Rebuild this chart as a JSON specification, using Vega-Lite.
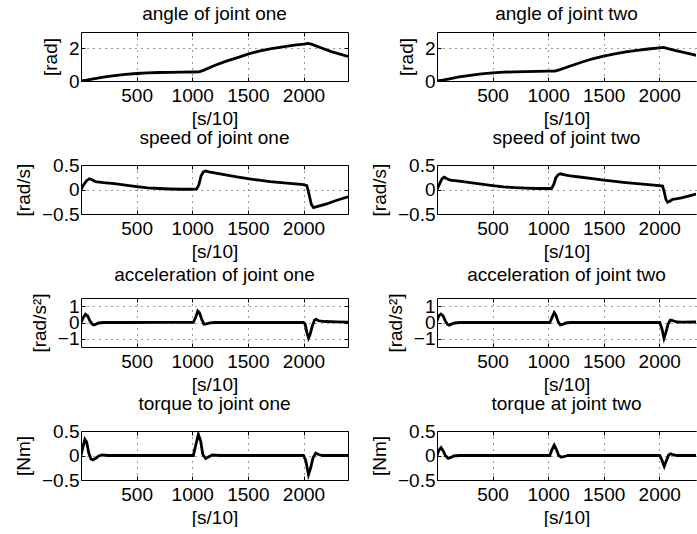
{
  "$schema": "https://vega.github.io/schema/vega-lite/v6.json",
  "padding": {"left": 14, "top": 4, "right": 0, "bottom": 0},
  "background": "white",
  "datasets": {
    "a1": [
      {"t": 0, "v": 0}, {"t": 50, "v": 0.05}, {"t": 100, "v": 0.12}, {"t": 200, "v": 0.24}, {"t": 300, "v": 0.33},
      {"t": 400, "v": 0.41}, {"t": 500, "v": 0.46}, {"t": 600, "v": 0.5}, {"t": 700, "v": 0.52}, {"t": 800, "v": 0.53},
      {"t": 900, "v": 0.54}, {"t": 1000, "v": 0.55}, {"t": 1060, "v": 0.56}, {"t": 1100, "v": 0.65}, {"t": 1200, "v": 0.95},
      {"t": 1300, "v": 1.2}, {"t": 1400, "v": 1.42}, {"t": 1500, "v": 1.65}, {"t": 1600, "v": 1.83}, {"t": 1700, "v": 1.97},
      {"t": 1800, "v": 2.08}, {"t": 1900, "v": 2.18}, {"t": 2000, "v": 2.26}, {"t": 2040, "v": 2.3}, {"t": 2070, "v": 2.26},
      {"t": 2150, "v": 2.05}, {"t": 2250, "v": 1.8}, {"t": 2400, "v": 1.5}
    ],
    "a2": [
      {"t": 0, "v": 0}, {"t": 50, "v": 0.05}, {"t": 100, "v": 0.12}, {"t": 200, "v": 0.25}, {"t": 300, "v": 0.35},
      {"t": 400, "v": 0.44}, {"t": 500, "v": 0.5}, {"t": 600, "v": 0.54}, {"t": 700, "v": 0.56}, {"t": 800, "v": 0.58},
      {"t": 900, "v": 0.59}, {"t": 1000, "v": 0.6}, {"t": 1060, "v": 0.6}, {"t": 1100, "v": 0.68}, {"t": 1200, "v": 0.92},
      {"t": 1300, "v": 1.15}, {"t": 1400, "v": 1.36}, {"t": 1500, "v": 1.52}, {"t": 1600, "v": 1.66}, {"t": 1700, "v": 1.78},
      {"t": 1800, "v": 1.88}, {"t": 1900, "v": 1.96}, {"t": 2000, "v": 2.03}, {"t": 2040, "v": 2.06}, {"t": 2070, "v": 2.0},
      {"t": 2150, "v": 1.86}, {"t": 2250, "v": 1.7}, {"t": 2340, "v": 1.56}
    ],
    "v1": [
      {"t": 0, "v": 0}, {"t": 20, "v": 0.08}, {"t": 50, "v": 0.18}, {"t": 75, "v": 0.22}, {"t": 100, "v": 0.2},
      {"t": 130, "v": 0.16}, {"t": 200, "v": 0.14}, {"t": 300, "v": 0.12}, {"t": 400, "v": 0.09}, {"t": 500, "v": 0.06},
      {"t": 600, "v": 0.035}, {"t": 700, "v": 0.02}, {"t": 800, "v": 0.01}, {"t": 900, "v": 0.005}, {"t": 1000, "v": 0.005},
      {"t": 1040, "v": 0.01}, {"t": 1060, "v": 0.1}, {"t": 1080, "v": 0.28}, {"t": 1100, "v": 0.36}, {"t": 1120, "v": 0.38},
      {"t": 1150, "v": 0.36}, {"t": 1200, "v": 0.34}, {"t": 1300, "v": 0.3}, {"t": 1400, "v": 0.26}, {"t": 1500, "v": 0.22},
      {"t": 1600, "v": 0.19}, {"t": 1700, "v": 0.16}, {"t": 1800, "v": 0.14}, {"t": 1900, "v": 0.12}, {"t": 2000, "v": 0.1},
      {"t": 2030, "v": 0.08}, {"t": 2050, "v": -0.1}, {"t": 2070, "v": -0.3}, {"t": 2090, "v": -0.37}, {"t": 2120, "v": -0.35},
      {"t": 2200, "v": -0.3}, {"t": 2300, "v": -0.22}, {"t": 2400, "v": -0.15}
    ],
    "v2": [
      {"t": 0, "v": 0}, {"t": 20, "v": 0.1}, {"t": 45, "v": 0.22}, {"t": 65, "v": 0.25}, {"t": 90, "v": 0.22},
      {"t": 120, "v": 0.19}, {"t": 200, "v": 0.17}, {"t": 300, "v": 0.14}, {"t": 400, "v": 0.11}, {"t": 500, "v": 0.08},
      {"t": 600, "v": 0.055}, {"t": 700, "v": 0.04}, {"t": 800, "v": 0.03}, {"t": 900, "v": 0.02}, {"t": 1000, "v": 0.02},
      {"t": 1030, "v": 0.02}, {"t": 1050, "v": 0.1}, {"t": 1070, "v": 0.24}, {"t": 1090, "v": 0.3}, {"t": 1110, "v": 0.32},
      {"t": 1150, "v": 0.3}, {"t": 1200, "v": 0.28}, {"t": 1300, "v": 0.25}, {"t": 1400, "v": 0.22}, {"t": 1500, "v": 0.19},
      {"t": 1600, "v": 0.165}, {"t": 1700, "v": 0.14}, {"t": 1800, "v": 0.12}, {"t": 1900, "v": 0.1}, {"t": 2000, "v": 0.08},
      {"t": 2030, "v": 0.07}, {"t": 2045, "v": -0.05}, {"t": 2060, "v": -0.2}, {"t": 2075, "v": -0.26}, {"t": 2095, "v": -0.24},
      {"t": 2120, "v": -0.2}, {"t": 2150, "v": -0.19}, {"t": 2200, "v": -0.17}, {"t": 2270, "v": -0.13}, {"t": 2340, "v": -0.09}
    ],
    "c1": [
      {"t": 0, "v": 0}, {"t": 20, "v": 0.3}, {"t": 40, "v": 0.5}, {"t": 60, "v": 0.4}, {"t": 80, "v": 0.1},
      {"t": 100, "v": -0.1}, {"t": 115, "v": -0.15}, {"t": 135, "v": -0.1}, {"t": 160, "v": -0.03}, {"t": 200, "v": 0},
      {"t": 400, "v": 0}, {"t": 700, "v": 0.01}, {"t": 900, "v": 0.01}, {"t": 1010, "v": 0.01}, {"t": 1030, "v": 0.3},
      {"t": 1050, "v": 0.7}, {"t": 1065, "v": 0.6}, {"t": 1085, "v": 0.2}, {"t": 1105, "v": -0.1}, {"t": 1125, "v": -0.08},
      {"t": 1160, "v": -0.02}, {"t": 1200, "v": 0}, {"t": 1500, "v": 0}, {"t": 1800, "v": 0}, {"t": 2000, "v": 0},
      {"t": 2015, "v": -0.1}, {"t": 2030, "v": -0.6}, {"t": 2045, "v": -0.95}, {"t": 2060, "v": -0.7}, {"t": 2080, "v": -0.2},
      {"t": 2100, "v": 0.15}, {"t": 2115, "v": 0.2}, {"t": 2140, "v": 0.1}, {"t": 2200, "v": 0.06}, {"t": 2300, "v": 0.04},
      {"t": 2400, "v": 0.02}
    ],
    "c2": [
      {"t": 0, "v": 0.1}, {"t": 15, "v": 0.4}, {"t": 35, "v": 0.52}, {"t": 55, "v": 0.4}, {"t": 75, "v": 0.1},
      {"t": 95, "v": -0.12}, {"t": 110, "v": -0.17}, {"t": 130, "v": -0.1}, {"t": 160, "v": -0.03}, {"t": 200, "v": 0},
      {"t": 600, "v": 0}, {"t": 1015, "v": 0}, {"t": 1035, "v": 0.3}, {"t": 1055, "v": 0.6}, {"t": 1070, "v": 0.45},
      {"t": 1090, "v": 0.05}, {"t": 1110, "v": -0.15}, {"t": 1130, "v": -0.12}, {"t": 1160, "v": -0.03}, {"t": 1200, "v": 0},
      {"t": 1600, "v": 0}, {"t": 2005, "v": 0}, {"t": 2025, "v": -0.4}, {"t": 2043, "v": -0.97}, {"t": 2060, "v": -0.6},
      {"t": 2080, "v": -0.1}, {"t": 2100, "v": 0.15}, {"t": 2120, "v": 0.12}, {"t": 2160, "v": 0.03}, {"t": 2200, "v": 0.02},
      {"t": 2340, "v": 0.03}
    ],
    "q1": [
      {"t": 0, "v": 0}, {"t": 15, "v": 0.15}, {"t": 35, "v": 0.33}, {"t": 50, "v": 0.28}, {"t": 70, "v": 0.05},
      {"t": 90, "v": -0.07}, {"t": 105, "v": -0.09}, {"t": 130, "v": -0.06}, {"t": 160, "v": -0.01}, {"t": 190, "v": 0.01},
      {"t": 250, "v": 0}, {"t": 600, "v": 0}, {"t": 1010, "v": 0}, {"t": 1030, "v": 0.2}, {"t": 1055, "v": 0.43},
      {"t": 1075, "v": 0.3}, {"t": 1095, "v": 0.02}, {"t": 1120, "v": -0.06}, {"t": 1145, "v": -0.03}, {"t": 1180, "v": 0.01},
      {"t": 1250, "v": 0}, {"t": 1600, "v": 0}, {"t": 2000, "v": 0}, {"t": 2020, "v": -0.1}, {"t": 2045, "v": -0.39},
      {"t": 2065, "v": -0.25}, {"t": 2085, "v": -0.05}, {"t": 2110, "v": 0.05}, {"t": 2135, "v": 0.02}, {"t": 2170, "v": 0},
      {"t": 2400, "v": 0}
    ],
    "q2": [
      {"t": 0, "v": 0}, {"t": 15, "v": 0.1}, {"t": 36, "v": 0.16}, {"t": 55, "v": 0.1}, {"t": 75, "v": 0},
      {"t": 100, "v": -0.06}, {"t": 125, "v": -0.04}, {"t": 150, "v": -0.01}, {"t": 200, "v": 0}, {"t": 600, "v": 0},
      {"t": 1015, "v": 0}, {"t": 1035, "v": 0.12}, {"t": 1055, "v": 0.21}, {"t": 1075, "v": 0.12}, {"t": 1095, "v": 0},
      {"t": 1120, "v": -0.035}, {"t": 1145, "v": -0.02}, {"t": 1180, "v": 0}, {"t": 1600, "v": 0}, {"t": 2005, "v": 0},
      {"t": 2025, "v": -0.1}, {"t": 2045, "v": -0.22}, {"t": 2065, "v": -0.1}, {"t": 2085, "v": 0.01}, {"t": 2105, "v": 0.035},
      {"t": 2130, "v": 0.01}, {"t": 2160, "v": 0}, {"t": 2340, "v": 0}
    ]
  },
  "config": {
    "font": "Liberation Sans",
    "view": {"stroke": null},
    "title": {"font": "Liberation Sans", "fontSize": 19, "fontWeight": "normal", "color": "black", "offset": 8},
    "axis": {
      "labelFont": "Liberation Sans", "labelFontSize": 19, "labelColor": "black",
      "titleFont": "Liberation Sans", "titleFontSize": 19, "titleFontWeight": "normal", "titleColor": "black",
      "domainColor": "black", "domainWidth": 1, "tickColor": "black", "tickSize": -4,
      "gridColor": "black", "gridDash": [1, 5], "gridOpacity": 0.8, "format": ".1~f",
      "labelFlush": false, "labelOverlap": false, "labelPadding": 6, "titlePadding": 8
    },
    "axisX": {"labelPadding": 9, "titlePadding": 4}
  },
  "columns": 2,
  "bounds": "flush",
  "spacing": {"row": 84, "column": 89},
  "concat": [
    {
      "title": "angle of joint one", "width": 267, "height": 49, "data": {"name": "a1"},
      "layer": [
        {"mark": {"type": "line", "color": "black", "strokeWidth": 2.8, "clip": true},
         "encoding": {
           "x": {"field": "t", "type": "quantitative", "scale": {"domain": [0, 2400], "nice": false, "zero": false}, "axis": {"values": [500, 1000, 1500, 2000], "title": "[s/10]"}},
           "y": {"field": "v", "type": "quantitative", "scale": {"domain": [0, 3], "nice": false, "zero": false}, "axis": {"values": [0, 2], "title": "[rad]"}}}},
        {"mark": {"type": "line", "opacity": 0},
         "encoding": {
           "x": {"field": "t", "type": "quantitative", "axis": {"orient": "top", "values": [500, 1000, 1500, 2000], "labels": false, "title": null, "grid": false}},
           "y": {"field": "v", "type": "quantitative", "axis": {"orient": "right", "values": [0, 2], "labels": false, "title": null, "grid": false}}}}
      ],
      "resolve": {"axis": {"x": "independent", "y": "independent"}}
    },
    {
      "title": "angle of joint two", "width": 259, "height": 49, "data": {"name": "a2"},
      "layer": [
        {"mark": {"type": "line", "color": "black", "strokeWidth": 2.8, "clip": true},
         "encoding": {
           "x": {"field": "t", "type": "quantitative", "scale": {"domain": [0, 2331], "nice": false, "zero": false}, "axis": {"values": [500, 1000, 1500, 2000], "title": "[s/10]"}},
           "y": {"field": "v", "type": "quantitative", "scale": {"domain": [0, 3], "nice": false, "zero": false}, "axis": {"values": [0, 2], "title": "[rad]"}}}},
        {"mark": {"type": "line", "opacity": 0},
         "encoding": {
           "x": {"field": "t", "type": "quantitative", "axis": {"orient": "top", "values": [500, 1000, 1500, 2000], "labels": false, "title": null, "grid": false}}}}
      ],
      "resolve": {"axis": {"x": "independent", "y": "independent"}}
    },
    {
      "title": "speed of joint one", "width": 267, "height": 49, "data": {"name": "v1"},
      "layer": [
        {"mark": {"type": "line", "color": "black", "strokeWidth": 2.8, "clip": true},
         "encoding": {
           "x": {"field": "t", "type": "quantitative", "scale": {"domain": [0, 2400], "nice": false, "zero": false}, "axis": {"values": [500, 1000, 1500, 2000], "title": "[s/10]"}},
           "y": {"field": "v", "type": "quantitative", "scale": {"domain": [-0.5, 0.5], "nice": false, "zero": false}, "axis": {"values": [-0.5, 0, 0.5], "title": "[rad/s]"}}}},
        {"mark": {"type": "line", "opacity": 0},
         "encoding": {
           "x": {"field": "t", "type": "quantitative", "axis": {"orient": "top", "values": [500, 1000, 1500, 2000], "labels": false, "title": null, "grid": false}},
           "y": {"field": "v", "type": "quantitative", "axis": {"orient": "right", "values": [-0.5, 0, 0.5], "labels": false, "title": null, "grid": false}}}}
      ],
      "resolve": {"axis": {"x": "independent", "y": "independent"}}
    },
    {
      "title": "speed of joint two", "width": 259, "height": 49, "data": {"name": "v2"},
      "layer": [
        {"mark": {"type": "line", "color": "black", "strokeWidth": 2.8, "clip": true},
         "encoding": {
           "x": {"field": "t", "type": "quantitative", "scale": {"domain": [0, 2331], "nice": false, "zero": false}, "axis": {"values": [500, 1000, 1500, 2000], "title": "[s/10]"}},
           "y": {"field": "v", "type": "quantitative", "scale": {"domain": [-0.5, 0.5], "nice": false, "zero": false}, "axis": {"values": [-0.5, 0, 0.5], "title": "[rad/s]"}}}},
        {"mark": {"type": "line", "opacity": 0},
         "encoding": {
           "x": {"field": "t", "type": "quantitative", "axis": {"orient": "top", "values": [500, 1000, 1500, 2000], "labels": false, "title": null, "grid": false}}}}
      ],
      "resolve": {"axis": {"x": "independent", "y": "independent"}}
    },
    {
      "title": "acceleration of joint one", "width": 267, "height": 49, "data": {"name": "c1"},
      "layer": [
        {"mark": {"type": "line", "color": "black", "strokeWidth": 2.8, "clip": true},
         "encoding": {
           "x": {"field": "t", "type": "quantitative", "scale": {"domain": [0, 2400], "nice": false, "zero": false}, "axis": {"values": [500, 1000, 1500, 2000], "title": "[s/10]"}},
           "y": {"field": "v", "type": "quantitative", "scale": {"domain": [-1.5, 1.5], "nice": false, "zero": false}, "axis": {"values": [-1, 0, 1], "title": "[rad/s²]"}}}},
        {"mark": {"type": "line", "opacity": 0},
         "encoding": {
           "x": {"field": "t", "type": "quantitative", "axis": {"orient": "top", "values": [500, 1000, 1500, 2000], "labels": false, "title": null, "grid": false}},
           "y": {"field": "v", "type": "quantitative", "axis": {"orient": "right", "values": [-1, 0, 1], "labels": false, "title": null, "grid": false}}}}
      ],
      "resolve": {"axis": {"x": "independent", "y": "independent"}}
    },
    {
      "title": "acceleration of joint two", "width": 259, "height": 49, "data": {"name": "c2"},
      "layer": [
        {"mark": {"type": "line", "color": "black", "strokeWidth": 2.8, "clip": true},
         "encoding": {
           "x": {"field": "t", "type": "quantitative", "scale": {"domain": [0, 2331], "nice": false, "zero": false}, "axis": {"values": [500, 1000, 1500, 2000], "title": "[s/10]"}},
           "y": {"field": "v", "type": "quantitative", "scale": {"domain": [-1.5, 1.5], "nice": false, "zero": false}, "axis": {"values": [-1, 0, 1], "title": "[rad/s²]"}}}},
        {"mark": {"type": "line", "opacity": 0},
         "encoding": {
           "x": {"field": "t", "type": "quantitative", "axis": {"orient": "top", "values": [500, 1000, 1500, 2000], "labels": false, "title": null, "grid": false}}}}
      ],
      "resolve": {"axis": {"x": "independent", "y": "independent"}}
    },
    {
      "title": "torque to joint one", "width": 267, "height": 49, "data": {"name": "q1"},
      "layer": [
        {"mark": {"type": "line", "color": "black", "strokeWidth": 2.8, "clip": true},
         "encoding": {
           "x": {"field": "t", "type": "quantitative", "scale": {"domain": [0, 2400], "nice": false, "zero": false}, "axis": {"values": [500, 1000, 1500, 2000], "title": "[s/10]"}},
           "y": {"field": "v", "type": "quantitative", "scale": {"domain": [-0.5, 0.5], "nice": false, "zero": false}, "axis": {"values": [-0.5, 0, 0.5], "title": "[Nm]"}}}},
        {"mark": {"type": "line", "opacity": 0},
         "encoding": {
           "x": {"field": "t", "type": "quantitative", "axis": {"orient": "top", "values": [500, 1000, 1500, 2000], "labels": false, "title": null, "grid": false}},
           "y": {"field": "v", "type": "quantitative", "axis": {"orient": "right", "values": [-0.5, 0, 0.5], "labels": false, "title": null, "grid": false}}}}
      ],
      "resolve": {"axis": {"x": "independent", "y": "independent"}}
    },
    {
      "title": "torque at joint two", "width": 259, "height": 49, "data": {"name": "q2"},
      "layer": [
        {"mark": {"type": "line", "color": "black", "strokeWidth": 2.8, "clip": true},
         "encoding": {
           "x": {"field": "t", "type": "quantitative", "scale": {"domain": [0, 2331], "nice": false, "zero": false}, "axis": {"values": [500, 1000, 1500, 2000], "title": "[s/10]"}},
           "y": {"field": "v", "type": "quantitative", "scale": {"domain": [-0.5, 0.5], "nice": false, "zero": false}, "axis": {"values": [-0.5, 0, 0.5], "title": "[Nm]"}}}},
        {"mark": {"type": "line", "opacity": 0},
         "encoding": {
           "x": {"field": "t", "type": "quantitative", "axis": {"orient": "top", "values": [500, 1000, 1500, 2000], "labels": false, "title": null, "grid": false}}}}
      ],
      "resolve": {"axis": {"x": "independent", "y": "independent"}}
    }
  ]
}
